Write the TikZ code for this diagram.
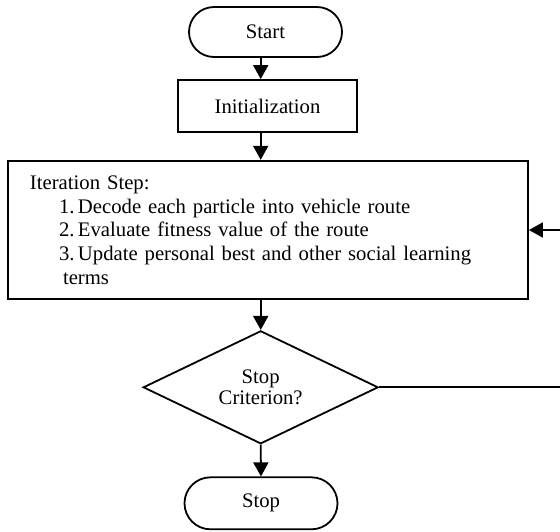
\documentclass[tikz,border=0pt]{standalone}
\usepackage{fontspec}
\setmainfont{Liberation Serif}
\usetikzlibrary{arrows.meta,shapes.geometric}
\begin{document}
\begin{tikzpicture}[
    x=1pt, y=-1pt,
    every node/.style={font=\fontsize{20.7}{23.7}\selectfont},
    termbox/.style={rectangle, draw, line width=1.8pt, minimum width=153pt, minimum height=50pt, rounded corners=25pt, inner sep=0pt},
    procbox/.style={rectangle, draw, line width=1.8pt, inner sep=0pt},
    decbox/.style={diamond, draw, line width=1.8pt, aspect=2, inner sep=0pt, minimum width=235pt, minimum height=113pt, align=center, font=\fontsize{20.7}{21.5}\selectfont},
    myarrow/.style={-{Triangle[width=15pt,length=14pt]}, line width=1.8pt},
]
\useasboundingbox (0,0) rectangle (560,531);
\clip (0,0) rectangle (560,531);

\node[termbox] (start) at (265.5,32) {Start};
\node[procbox, minimum width=179pt, minimum height=52pt] (init) at (267.5,106) {Initialization};
\node[procbox, minimum width=520pt, minimum height=138.6pt, text width=476pt, align=left] (iter) at (268,230) {Iteration Step:\\
\hspace*{29pt}\makebox[19pt][l]{1.}Decode each particle into vehicle route\\
\hspace*{29pt}\makebox[19pt][l]{2.}Evaluate fitness value of the route\\
\hspace*{29pt}\makebox[19pt][l]{3.}Update personal best and other social learning\\
\hspace*{33pt}terms};
\node[decbox] (dec) at (260.7,387.3) {Stop\\Criterion?};
\node[termbox, minimum height=52pt, rounded corners=26pt] (stop) at (261,503.3) {Stop};

\coordinate (back) at (563,387.3);

\draw[myarrow] (start.south -| dec) -- (init.north -| dec);
\draw[myarrow] (init.south -| dec) -- (iter.north -| dec);
\draw[myarrow] (iter.south -| dec) -- (dec.north);
\draw[myarrow] (dec.south) -- (stop.north);
\draw[myarrow] (dec.east) -- (back) |- (iter.east);
\end{tikzpicture}
\end{document}
